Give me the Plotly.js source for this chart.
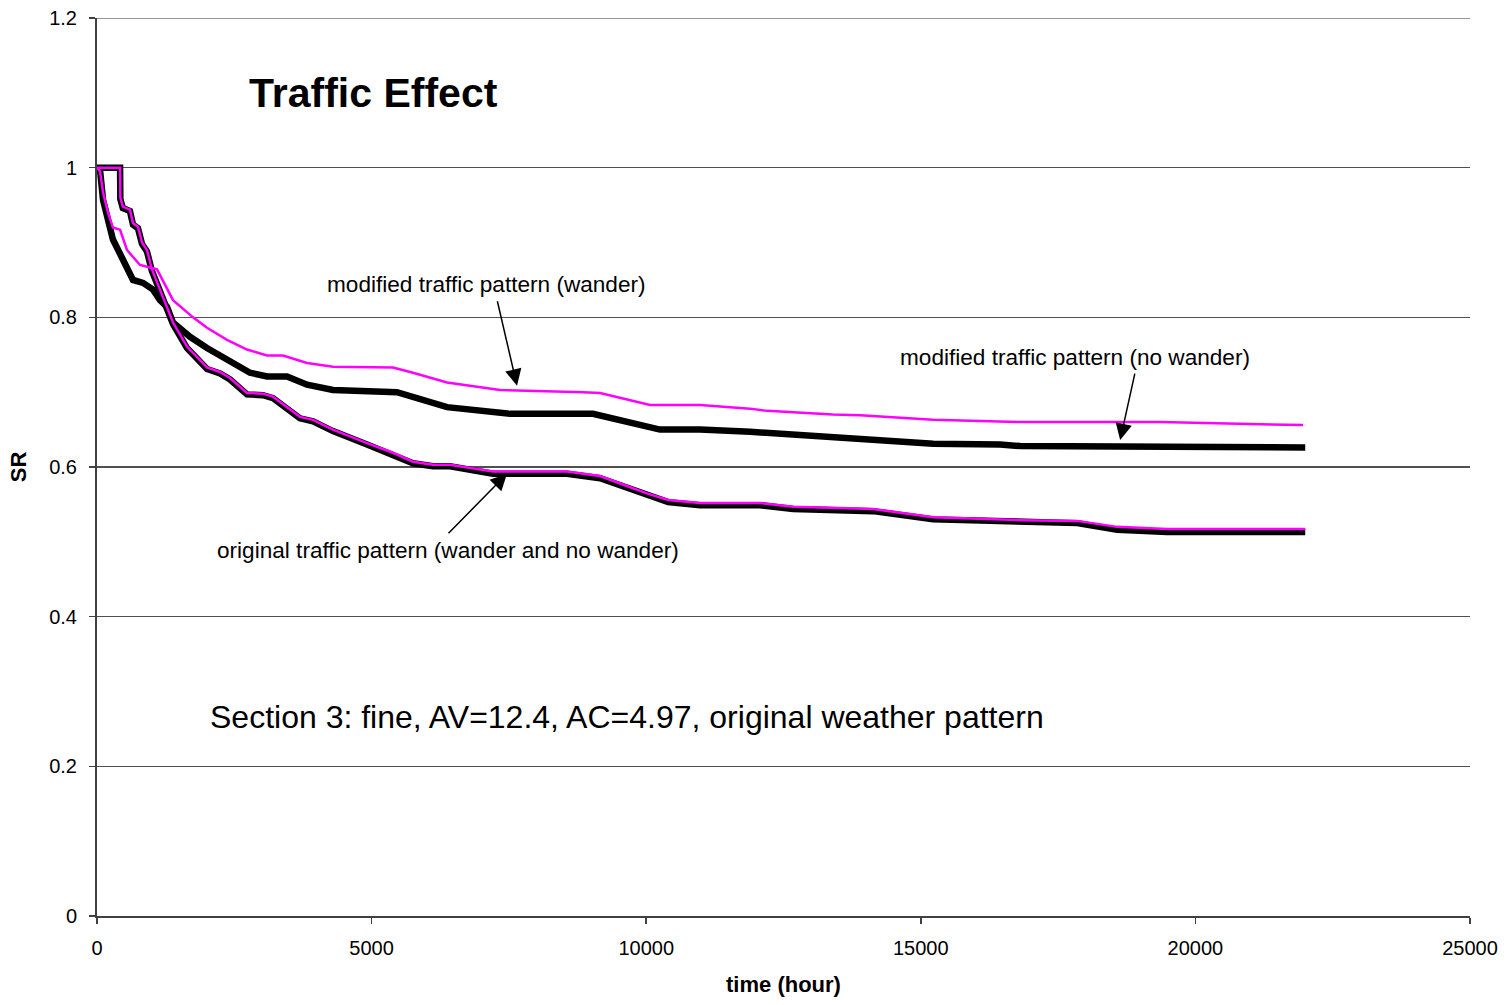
<!DOCTYPE html>
<html>
<head>
<meta charset="utf-8">
<script src="https://cdn.plot.ly/plotly-3.0.1.min.js"></script>
<style>
html,body{margin:0;padding:0;background:#fff;}
#chart{width:1508px;height:1005px;}
</style>
</head>
<body>
<div id="chart"></div>
<script>
// ---- data (time in hours, SR) ----
const modWanderX = [0, 55, 110, 200, 290, 420, 546, 783, 1093, 1384, 1748, 2003, 2367, 2731, 3095, 3387, 3824, 4297, 5390, 5754, 6373, 7338, 8850, 9160, 10070, 10980, 11890, 12200, 13400, 13894, 15225, 16445, 16810, 19358, 21960];
const modWanderY = [1.0, 0.995, 0.967, 0.940, 0.920, 0.917, 0.890, 0.870, 0.864, 0.823, 0.800, 0.786, 0.770, 0.757, 0.749, 0.749, 0.739, 0.734, 0.733, 0.726, 0.713, 0.703, 0.700, 0.699, 0.683, 0.683, 0.678, 0.675, 0.670, 0.669, 0.663, 0.660, 0.660, 0.660, 0.656];

const modNoWanderX = [0, 55, 110, 200, 290, 473, 655, 838, 1020, 1147, 1275, 1384, 1693, 2003, 2367, 2786, 3095, 3460, 3824, 4297, 5462, 6373, 7520, 9031, 10250, 10980, 11890, 13403, 14200, 15225, 16445, 16810, 19485, 22000];
const modNoWanderY = [1.0, 0.997, 0.957, 0.926, 0.904, 0.877, 0.850, 0.846, 0.837, 0.823, 0.814, 0.793, 0.774, 0.759, 0.743, 0.726, 0.721, 0.721, 0.710, 0.703, 0.700, 0.680, 0.671, 0.671, 0.650, 0.650, 0.647, 0.640, 0.636, 0.631, 0.630, 0.628, 0.627, 0.626];

const origX = [0, 420, 425, 470, 600, 655, 746, 820, 910, 1000, 1147, 1384, 1639, 1821, 2003, 2240, 2422, 2731, 3023, 3205, 3460, 3696, 3933, 4297, 4917, 5390, 5754, 6118, 6428, 7210, 8558, 9160, 9600, 10000, 10400, 10980, 12073, 12675, 14130, 15225, 16810, 17850, 18575, 19485, 22000];
const origWanderY = [1.0, 1.0, 0.960, 0.948, 0.944, 0.926, 0.921, 0.900, 0.890, 0.864, 0.837, 0.793, 0.761, 0.747, 0.733, 0.727, 0.719, 0.699, 0.698, 0.694, 0.680, 0.667, 0.663, 0.650, 0.632, 0.619, 0.607, 0.603, 0.603, 0.594, 0.594, 0.588, 0.576, 0.565, 0.556, 0.552, 0.552, 0.547, 0.544, 0.533, 0.529, 0.528, 0.520, 0.517, 0.517];
const origNoWanderY = [1.0, 1.0, 0.958, 0.946, 0.942, 0.924, 0.919, 0.898, 0.888, 0.862, 0.835, 0.791, 0.759, 0.745, 0.731, 0.725, 0.717, 0.697, 0.696, 0.692, 0.678, 0.665, 0.661, 0.648, 0.630, 0.617, 0.605, 0.601, 0.601, 0.591, 0.591, 0.585, 0.573, 0.562, 0.553, 0.549, 0.549, 0.544, 0.541, 0.530, 0.526, 0.525, 0.516, 0.513, 0.513];

const xTicks = [0, 5000, 10000, 15000, 20000, 25000];
const yTicks = [0, 0.2, 0.4, 0.6, 0.8, 1, 1.2];
const yTickText = ['0', '0.2', '0.4', '0.6', '0.8', '1', '1.2'];

const FONT = 'Liberation Sans, Arial, sans-serif';

const traces = [
  {x: modNoWanderX, y: modNoWanderY, mode: 'lines', name: 'modified traffic pattern (no wander)',
   line: {color: '#000000', width: 6.5}},
  {x: origX, y: origNoWanderY, mode: 'lines', name: 'original traffic pattern (no wander)',
   line: {color: '#000000', width: 6.5}},
  {x: origX, y: origWanderY, mode: 'lines', name: 'original traffic pattern (wander)',
   line: {color: '#ff00ff', width: 2.5}},
  {x: modWanderX, y: modWanderY, mode: 'lines', name: 'modified traffic pattern (wander)',
   line: {color: '#ff00ff', width: 2.5}}
];

const layout = {
  width: 1508, height: 1005,
  margin: {l: 97, r: 38, t: 18, b: 89},
  paper_bgcolor: '#ffffff', plot_bgcolor: '#ffffff',
  showlegend: false,
  font: {family: FONT, size: 20, color: '#000'},
  xaxis: {
    range: [0, 25000], tickvals: xTicks, ticktext: xTicks.map(String),
    showgrid: false, zeroline: false, showline: true, linecolor: '#404040', linewidth: 2,
    ticks: 'outside', ticklen: 6, tickcolor: '#404040', tickwidth: 1.5,
    tickfont: {family: FONT, size: 20}, ticklabelstandoff: 7,
    title: {text: '<b>time (hour)</b>', font: {family: FONT, size: 22}, standoff: 19}
  },
  yaxis: {
    range: [0, 1.2], tickvals: yTicks, ticktext: yTickText,
    showgrid: true, gridcolor: '#505050', gridwidth: 1.3,
    zeroline: false, showline: true, linecolor: '#404040', linewidth: 2,
    ticks: 'outside', ticklen: 6, tickcolor: '#404040', tickwidth: 1.5,
    tickfont: {family: FONT, size: 20}, ticklabelstandoff: 8,
    title: {text: '<b>SR</b>', font: {family: FONT, size: 22}, standoff: 16}
  },
  shapes: [
    {type: 'line', xref: 'paper', yref: 'y', x0: 0, x1: 1, y0: 1.2, y1: 1.2,
     line: {color: '#707070', width: 1.3}}
  ],
  annotations: [
    {x: 5026, y: 1.100, xref: 'x', yref: 'y', text: '<b>Traffic Effect</b>', showarrow: false,
     font: {family: FONT, size: 41, color: '#000'}},
    {x: 7084, y: 0.8436, xref: 'x', yref: 'y', text: 'modified traffic pattern (wander)', showarrow: false,
     font: {family: FONT, size: 22.6, color: '#000'}},
    {x: 17810, y: 0.747, xref: 'x', yref: 'y', text: 'modified traffic pattern (no wander)', showarrow: false,
     font: {family: FONT, size: 22.6, color: '#000'}},
    {x: 6392, y: 0.488, xref: 'x', yref: 'y', text: 'original traffic pattern (wander and no wander)', showarrow: false,
     font: {family: FONT, size: 22.6, color: '#000'}},
    {x: 9651, y: 0.266, xref: 'x', yref: 'y', text: 'Section 3: fine, AV=12.4, AC=4.97, original weather pattern', showarrow: false,
     font: {family: FONT, size: 32, color: '#000'}},
    {x: 7648, y: 0.7086, xref: 'x', yref: 'y', text: '', showarrow: true, ax: -20, ay: -86,
     arrowhead: 2, arrowsize: 2.2, arrowwidth: 1.5, arrowcolor: '#000'},
    {x: 18630, y: 0.636, xref: 'x', yref: 'y', text: '', showarrow: true, ax: 15, ay: -68,
     arrowhead: 2, arrowsize: 2.2, arrowwidth: 1.5, arrowcolor: '#000'},
    {x: 7466, y: 0.591, xref: 'x', yref: 'y', text: '', showarrow: true, ax: -60, ay: 61,
     arrowhead: 2, arrowsize: 2.2, arrowwidth: 1.5, arrowcolor: '#000'}
  ]
};

Plotly.newPlot('chart', traces, layout, {displayModeBar: false, staticPlot: true});
</script>
</body>
</html>
